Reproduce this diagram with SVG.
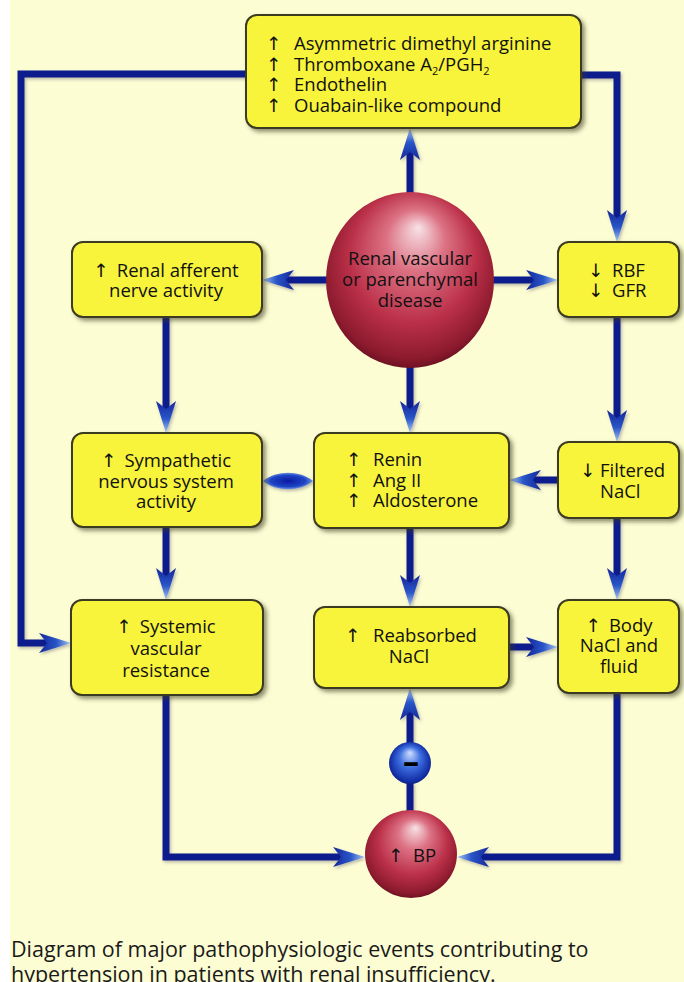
<svg xmlns="http://www.w3.org/2000/svg" width="684" height="982" viewBox="0 0 684 982">
<style>
  .box{fill:#f8f43b;stroke:#3b3a20;stroke-width:2;filter:url(#bshadow)}
  .t{font-family:"Open Sans","DejaVu Sans",sans-serif;font-size:18.5px;fill:#111}
  .c{text-anchor:middle}
  .sub{font-size:11px}
  .line{fill:none;stroke:#0c1b8c;stroke-width:7;stroke-linejoin:miter}
  .arr{marker-end:url(#ah)}
  .cap{font-family:"Open Sans","DejaVu Sans",sans-serif;font-size:21.5px;fill:#1a1a1a}
</style>
<defs>
  <filter id="bshadow" x="-10%" y="-10%" width="125%" height="130%">
    <feDropShadow dx="3" dy="3" stdDeviation="2" flood-color="#3a3a20" flood-opacity="0.55"/>
  </filter>
  <filter id="lshadow" x="-5%" y="-5%" width="110%" height="110%">
    <feDropShadow dx="1.5" dy="2" stdDeviation="1.5" flood-color="#404060" flood-opacity="0.35"/>
  </filter>
  <linearGradient id="ahg" x1="0" y1="0" x2="1" y2="0">
    <stop offset="0" stop-color="#14279a"/>
    <stop offset="0.55" stop-color="#2a56c8"/>
    <stop offset="1" stop-color="#a8c6f2"/>
  </linearGradient>
  <marker id="ah" viewBox="0 0 32 22" markerWidth="32" markerHeight="22" refX="8" refY="11" orient="auto" markerUnits="userSpaceOnUse">
    <path d="M0,1 L32,11 L0,21 L8,11 Z" fill="url(#ahg)"/>
  </marker>
  <radialGradient id="red" cx="0.5" cy="0.45" r="0.58" fx="0.55" fy="0.2">
    <stop offset="0" stop-color="#f8e2e6"/>
    <stop offset="0.3" stop-color="#dc7284"/>
    <stop offset="0.65" stop-color="#bb3049"/>
    <stop offset="0.9" stop-color="#8c1a2e"/>
    <stop offset="1" stop-color="#5e0c1c"/>
  </radialGradient>
  <radialGradient id="blue" cx="0.5" cy="0.5" r="0.55" fx="0.5" fy="0.25">
    <stop offset="0" stop-color="#cfe0ff"/>
    <stop offset="0.45" stop-color="#3f6fe0"/>
    <stop offset="0.85" stop-color="#1430a8"/>
    <stop offset="1" stop-color="#0a1870"/>
  </radialGradient>
  <radialGradient id="lens" cx="0.5" cy="0.5" r="0.5">
    <stop offset="0" stop-color="#0a1aa0"/>
    <stop offset="0.7" stop-color="#1f44c4"/>
    <stop offset="1" stop-color="#6f95e0"/>
  </radialGradient>
</defs>

<rect x="0" y="0" width="684" height="982" fill="#ffffff"/>
<rect x="10" y="0" width="674" height="982" fill="#fdfdd4"/>

<g id="connectors" filter="url(#lshadow)">
  <path class="line arr" d="M410,200 V152"/>
  <path class="line arr" d="M250,74 H21 V643 H47"/>
  <path class="line arr" d="M575,75 H617 V218"/>
  <path class="line arr" d="M340,280 H286"/>
  <path class="line arr" d="M480,280 H534"/>
  <path class="line arr" d="M166,317 V409"/>
  <path class="line arr" d="M410,360 V409"/>
  <path class="line arr" d="M617,317 V418"/>
  <path class="line arr" d="M558,480 H533"/>
  <path d="M263,481 C276,470 300,470 313,481 C300,492 276,492 263,481 Z" fill="url(#lens)"/>
  <path class="line arr" d="M166,527 V576"/>
  <path class="line arr" d="M410,528 V583"/>
  <path class="line arr" d="M617,518 V576"/>
  <path class="line arr" d="M509,647 H534"/>
  <path class="line arr" d="M410,745 V712"/>
  <path class="line" d="M410,812 V782"/>
  <path class="line arr" d="M166,695 V857 H341"/>
  <path class="line arr" d="M617,693 V857 H481"/>
</g>

<g id="mediators">
  <rect class="box" x="246" y="15" width="335" height="113" rx="11"/>
  <text class="t" x="266" y="50">↑<tspan x="294">Asymmetric dimethyl arginine</tspan></text>
  <text class="t" x="266" y="71">↑<tspan x="294">Thromboxane A</tspan><tspan class="sub" dy="4">2</tspan><tspan dy="-4">/PGH</tspan><tspan class="sub" dy="4">2</tspan></text>
  <text class="t" x="266" y="91">↑<tspan x="294">Endothelin</tspan></text>
  <text class="t" x="266" y="112">↑<tspan x="294">Ouabain-like compound</tspan></text>
</g>

<g id="afferent">
  <rect class="box" x="72" y="242" width="190" height="75" rx="11"/>
  <text class="t c" x="166" y="277">↑<tspan dx="8">Renal afferent</tspan></text>
  <text class="t c" x="166" y="297">nerve activity</text>
</g>

<g id="disease">
  <ellipse cx="410" cy="280" rx="84" ry="88" fill="url(#red)"/>
  <text class="t c" x="410" y="265">Renal vascular</text>
  <text class="t c" x="410" y="286">or parenchymal</text>
  <text class="t c" x="410" y="307">disease</text>
</g>

<g id="rbf">
  <rect class="box" x="558" y="242" width="121" height="75" rx="11"/>
  <text class="t" x="588" y="277">↓<tspan x="612">RBF</tspan></text>
  <text class="t" x="588" y="297">↓<tspan x="612">GFR</tspan></text>
</g>

<g id="sympathetic">
  <rect class="box" x="72" y="433" width="190" height="94" rx="11"/>
  <text class="t c" x="166" y="467">↑<tspan dx="8">Sympathetic</tspan></text>
  <text class="t c" x="166" y="488">nervous system</text>
  <text class="t c" x="166" y="508">activity</text>
</g>

<g id="renin">
  <rect class="box" x="314" y="433" width="195" height="95" rx="11"/>
  <text class="t" x="346" y="466">↑<tspan x="373">Renin</tspan></text>
  <text class="t" x="346" y="487">↑<tspan x="373">Ang II</tspan></text>
  <text class="t" x="346" y="507">↑<tspan x="373">Aldosterone</tspan></text>
</g>

<g id="filtered">
  <rect class="box" x="558" y="442" width="121" height="76" rx="11"/>
  <text class="t" x="580" y="477">↓<tspan x="600">Filtered</tspan></text>
  <text class="t" x="600" y="498">NaCl</text>
</g>

<g id="systemic">
  <rect class="box" x="71" y="600" width="192" height="95" rx="11"/>
  <text class="t c" x="166" y="633">↑<tspan dx="8">Systemic</tspan></text>
  <text class="t c" x="166" y="655">vascular</text>
  <text class="t c" x="166" y="677">resistance</text>
</g>

<g id="reabsorbed">
  <rect class="box" x="314" y="607" width="195" height="81" rx="11"/>
  <text class="t" x="345" y="642">↑<tspan x="373">Reabsorbed</tspan></text>
  <text class="t c" x="409" y="663">NaCl</text>
</g>

<g id="body">
  <rect class="box" x="558" y="600" width="121" height="93" rx="11"/>
  <text class="t c" x="619" y="632">↑<tspan dx="8">Body</tspan></text>
  <text class="t c" x="619" y="652">NaCl and</text>
  <text class="t c" x="619" y="673">fluid</text>
</g>

<g id="inhibit">
  <circle cx="410" cy="763" r="21" fill="url(#blue)"/>
  <text x="411" y="773" text-anchor="middle" font-family="'Open Sans','DejaVu Sans',sans-serif" font-size="32" font-weight="bold" fill="#000">–</text>
</g>

<g id="bp">
  <ellipse cx="411" cy="854" rx="46" ry="44" fill="url(#red)"/>
  <text class="t" x="388" y="862">↑<tspan x="413">BP</tspan></text>
</g>

<g id="caption">
  <text class="cap" x="11" y="957">Diagram of major pathophysiologic events contributing to</text>
  <text class="cap" x="11" y="982">hypertension in patients with renal insufficiency.</text>
</g>
</svg>
